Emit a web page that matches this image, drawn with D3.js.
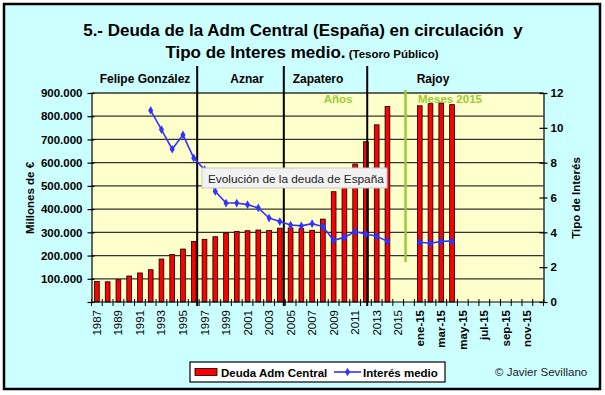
<!DOCTYPE html>
<html>
<head>
<meta charset="utf-8">
<script src="https://cdn.jsdelivr.net/npm/d3@7"></script>
<style>
  body { margin: 0; background: #fff; }
  svg text { font-family: "Liberation Sans", Arial, sans-serif; }
</style>
</head>
<body>
<div id="chart"></div>
<script>
// categories: years, an empty slot, then months of 2015
const categories = ['1987', '1988', '1989', '1990', '1991', '1992', '1993', '1994', '1995', '1996',
    '1997', '1998', '1999', '2000', '2001', '2002', '2003', '2004', '2005', '2006',
    '2007', '2008', '2009', '2010', '2011', '2012', '2013', '2014', '2015', '',
    'ene-15', 'feb-15', 'mar-15', 'abr-15', 'may-15', 'jun-15', 'jul-15', 'ago-15',
    'sep-15', 'oct-15', 'nov-15', 'dic-15'];

// Deuda Adm Central (millones de euros)
const deuda = [88000, 87000, 96000, 112000, 125000, 139000, 185000, 205000, 228000, 261000,
    270000, 281000, 297000, 304000, 307000, 310000, 308000, 318000, 319000, 316000,
    309000, 357000, 475000, 525000, 594000, 690000, 763000, 842000, null, null,
    845000, 854000, 857000, 850000, null, null, null, null, null, null, null, null];

// Interés medio (%)
const interes = [null, null, null, null, null, 11.0, 9.9, 8.77, 9.6, 8.27,
    7.6, 6.35, 5.68, 5.68, 5.59, 5.4, 4.82, 4.62, 4.42, 4.37,
    4.5, 4.33, 3.54, 3.71, 4.04, 3.9, 3.77, 3.48, null, null,
    3.43, 3.37, 3.48, 3.5, null, null, null, null, null, null, null, null];

const leftTicks = [0, 100000, 200000, 300000, 400000, 500000, 600000, 700000, 800000, 900000];
const rightTicks = [0, 2, 4, 6, 8, 10, 12];

// government changes, in category units
const presidents = ['Felipe González', 'Aznar', 'Zapatero', 'Rajoy'];
const cambios = [9.82, 17.87, 25.62];
const separador = 29.18;

const width = 605, height = 395;
const plot = { left: 91.5, right: 543.5, top: 93, bottom: 302 };

const svg = d3.select('#chart').append('svg')
    .attr('width', width)
    .attr('height', height);

// frame
svg.append('rect')
    .attr('x', 4).attr('y', 4)
    .attr('width', 596).attr('height', 385)
    .attr('fill', '#CCFFFF')
    .attr('stroke', '#000')
    .attr('stroke-width', 2.5);

const idx = d3.range(categories.length);
const x = d3.scaleBand()
    .domain(idx)
    .range([plot.left, plot.right])
    .paddingInner(0.56)
    .paddingOuter(0.28);
const xi = d3.scaleLinear().domain([0, categories.length]).range([plot.left, plot.right]);
const yL = d3.scaleLinear().domain([0, 900000]).range([plot.bottom, plot.top]);
const yR = d3.scaleLinear().domain([0, 12]).range([plot.bottom, plot.top]);

// plot background
svg.append('rect')
    .attr('x', plot.left).attr('y', plot.top)
    .attr('width', plot.right - plot.left).attr('height', plot.bottom - plot.top)
    .attr('fill', '#FFFFCC');

// gridlines
svg.append('g')
    .selectAll('line')
    .data(leftTicks.filter(d => d > 0))
    .enter().append('line')
    .attr('x1', plot.left).attr('x2', plot.right)
    .attr('y1', d => yL(d)).attr('y2', d => yL(d))
    .attr('stroke', '#333')
    .attr('stroke-width', 1.3);

// bars
svg.append('g')
    .selectAll('rect')
    .data(idx.filter(i => deuda[i] != null))
    .enter().append('rect')
    .attr('x', i => x(i))
    .attr('y', i => yL(deuda[i]))
    .attr('width', x.bandwidth())
    .attr('height', i => yL(0) - yL(deuda[i]))
    .attr('fill', '#FF0000')
    .attr('stroke', '#000')
    .attr('stroke-width', 0.8);

// government dividers
svg.append('g')
    .selectAll('line')
    .data(cambios)
    .enter().append('line')
    .attr('x1', d => xi(d)).attr('x2', d => xi(d))
    .attr('y1', 66).attr('y2', 306)
    .attr('stroke', '#000')
    .attr('stroke-width', 2);

const presX = [145, 247, 318, 433];
svg.append('g')
    .selectAll('text')
    .data(presidents)
    .enter().append('text')
    .attr('x', (d, i) => presX[i])
    .attr('y', 83)
    .attr('text-anchor', 'middle')
    .attr('font-size', 12)
    .attr('font-weight', 'bold')
    .text(d => d);

// years / months separator
svg.append('line')
    .attr('x1', xi(separador)).attr('x2', xi(separador))
    .attr('y1', 90).attr('y2', 262)
    .attr('stroke', '#99CC33')
    .attr('stroke-width', 2.5);
svg.append('text')
    .attr('x', 338).attr('y', 103)
    .attr('text-anchor', 'middle')
    .attr('font-size', 11.5).attr('font-weight', 'bold')
    .attr('fill', '#99CC33')
    .text('Años');
svg.append('text')
    .attr('x', 450).attr('y', 103)
    .attr('text-anchor', 'middle')
    .attr('font-size', 11.5).attr('font-weight', 'bold')
    .attr('fill', '#99CC33')
    .text('Meses 2015');

// interest line
const line = d3.line()
    .defined(i => interes[i] != null)
    .x(i => x(i) + x.bandwidth() / 2)
    .y(i => yR(interes[i]));
svg.append('path')
    .datum(idx)
    .attr('d', line)
    .attr('fill', 'none')
    .attr('stroke', '#3333FF')
    .attr('stroke-width', 1.6);
svg.append('g')
    .selectAll('path')
    .data(idx.filter(i => interes[i] != null))
    .enter().append('path')
    .attr('d', d3.symbol().type(d3.symbolDiamond).size(22))
    .attr('transform', i => `translate(${x(i) + x.bandwidth() / 2},${yR(interes[i])})`)
    .attr('fill', '#3333FF');

// axes
const fmt = d3.formatLocale({ decimal: ',', thousands: '.', grouping: [3], currency: ['', '€'] }).format(',');

const gL = svg.append('g')
    .attr('transform', `translate(${plot.left},0)`)
    .call(d3.axisLeft(yL).tickValues(leftTicks).tickFormat(d => d === 0 ? '' : fmt(d)).tickSize(4).tickSizeOuter(0).tickPadding(5));
gL.selectAll('.tick line').attr('x1', 3);
gL.selectAll('text').attr('font-size', 11.5).attr('font-weight', 'bold').attr('font-family', 'Liberation Sans, Arial, sans-serif');

const gR = svg.append('g')
    .attr('transform', `translate(${plot.right},0)`)
    .call(d3.axisRight(yR).tickValues(rightTicks).tickSize(4).tickSizeOuter(0).tickPadding(3));
gR.selectAll('.tick line').attr('x1', -4);
gR.selectAll('text').attr('font-size', 11.5).attr('font-weight', 'bold').attr('font-family', 'Liberation Sans, Arial, sans-serif');

svg.selectAll('.domain').attr('stroke', '#000').attr('stroke-width', 1.2);
svg.selectAll('.tick line').attr('stroke', '#000').attr('stroke-width', 1.2);

// x axis: line, boundary ticks, labels
svg.append('line')
    .attr('x1', plot.left).attr('x2', plot.right)
    .attr('y1', plot.bottom).attr('y2', plot.bottom)
    .attr('stroke', '#000').attr('stroke-width', 1.2);
svg.append('g')
    .selectAll('line')
    .data(d3.range(categories.length + 1))
    .enter().append('line')
    .attr('x1', d => xi(d)).attr('x2', d => xi(d))
    .attr('y1', plot.bottom - 3).attr('y2', plot.bottom + 4)
    .attr('stroke', '#000').attr('stroke-width', 1);

svg.append('g')
    .selectAll('text')
    .data(idx.filter(i => i % 2 === 0))
    .enter().append('text')
    .attr('transform', i => `translate(${x(i) + x.bandwidth() / 2 + 4},310) rotate(-90)`)
    .attr('text-anchor', 'end')
    .attr('font-size', 11.5)
    .attr('font-weight', i => i >= 30 ? 'bold' : 'normal')
    .text(i => categories[i]);

// axis titles
svg.append('text')
    .attr('transform', 'translate(34,198) rotate(-90)')
    .attr('text-anchor', 'middle')
    .attr('font-size', 11.5).attr('font-weight', 'bold')
    .text('Millones de €');
svg.append('text')
    .attr('transform', 'translate(580,198) rotate(-90)')
    .attr('text-anchor', 'middle')
    .attr('font-size', 11.5).attr('font-weight', 'bold')
    .text('Tipo de Interés');

// title
svg.append('text')
    .attr('x', 303).attr('y', 36)
    .attr('text-anchor', 'middle')
    .attr('font-size', 17).attr('font-weight', 'bold')
    .attr('xml:space', 'preserve')
    .text('5.- Deuda de la Adm Central (España) en circulación  y');
const t2 = svg.append('text')
    .attr('x', 302).attr('y', 58)
    .attr('text-anchor', 'middle')
    .attr('font-weight', 'bold');
t2.append('tspan').attr('font-size', 17).text('Tipo de Interes medio.');
t2.append('tspan').attr('font-size', 11.5).text(' (Tesoro Público)');

// legend
const lg = svg.append('g').attr('transform', 'translate(190,362)');
lg.append('rect')
    .attr('width', 255).attr('height', 20)
    .attr('fill', '#fff').attr('stroke', '#000').attr('stroke-width', 1.2);
lg.append('rect')
    .attr('x', 5).attr('y', 6.5).attr('width', 22).attr('height', 7)
    .attr('fill', '#FF0000').attr('stroke', '#000').attr('stroke-width', 0.8);
lg.append('text')
    .attr('x', 31).attr('y', 14.5)
    .attr('font-size', 11.5).attr('font-weight', 'bold')
    .text('Deuda Adm Central');
lg.append('line')
    .attr('x1', 144).attr('x2', 171).attr('y1', 10).attr('y2', 10)
    .attr('stroke', '#3333FF').attr('stroke-width', 1.6);
lg.append('path')
    .attr('d', d3.symbol().type(d3.symbolDiamond).size(22))
    .attr('transform', 'translate(157.5,10)')
    .attr('fill', '#3333FF');
lg.append('text')
    .attr('x', 173).attr('y', 14.5)
    .attr('font-size', 11.5).attr('font-weight', 'bold')
    .text('Interés medio');

svg.append('text')
    .attr('x', 495).attr('y', 376)
    .attr('font-size', 11.5)
    .attr('fill', '#222')
    .text('© Javier Sevillano');

// tooltip
const tip = svg.append('g').attr('transform', 'translate(202,168)');
tip.append('rect')
    .attr('width', 185).attr('height', 20)
    .attr('fill', '#F2F2F2')
    .attr('stroke', '#C8C8C8')
    .attr('stroke-width', 1);
tip.append('text')
    .attr('x', 6).attr('y', 14.5)
    .attr('font-size', 11.8)
    .attr('fill', '#222')
    .text('Evolución de la deuda de España');
</script>
</body>
</html>
